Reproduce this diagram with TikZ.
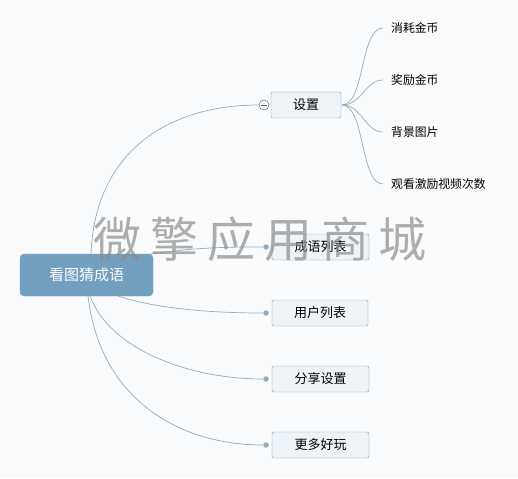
\documentclass[tikz,border=0pt]{standalone}
\usepackage{fontspec}
\setmainfont{Noto Sans CJK SC}
\newfontfamily\cjk{Noto Sans CJK SC}
\definecolor{bg}{HTML}{FAFBFC}
\definecolor{rootc}{HTML}{739FC0}
\definecolor{boxfill}{HTML}{EEF3F8}
\definecolor{boxline}{HTML}{7C9CB6}
\definecolor{linec}{HTML}{8FAEC6}
\definecolor{wm}{HTML}{8C8C8C}
\tikzset{
  rootbox/.style={draw=rootc,fill=rootc,rounded corners=4pt,text=white,font=\cjk\fontsize{15}{17}\selectfont,minimum width=133pt,minimum height=42pt,inner sep=0pt},
  childbox/.style={draw=boxline,fill=boxfill,rounded corners=2pt,font=\cjk\fontsize{13}{15}\selectfont,minimum height=26pt,inner sep=0pt},
  leaf/.style={font=\cjk\fontsize{11.8}{13}\selectfont,anchor=west,inner sep=0pt},
  conn/.style={draw=linec,line width=0.7pt},
  dot/.style={circle,fill=linec,minimum size=5.5pt,inner sep=0pt},
}
\begin{document}
\begin{tikzpicture}[x=1pt,y=-1pt]
\fill[bg] (0,0) rectangle (518,478);
\useasboundingbox (0,0) rectangle (518,478);

\node[rootbox] (root) at (86.5,275) {看图猜成语};
\node[childbox,minimum width=70pt] (s) at (306,105) {设置};
\node[childbox,minimum width=97pt] (c1) at (320.5,247) {成语列表};
\node[childbox,minimum width=96pt] (c2) at (320,313) {用户列表};
\node[childbox,minimum width=97pt] (c3) at (320.5,379) {分享设置};
\node[childbox,minimum width=97pt] (c4) at (320.5,445) {更多好玩};

\node[circle,draw=gray!80!black,fill=white,minimum size=10pt,inner sep=0pt,line width=0.5pt] (col) at (264,105) {};
\draw[gray!80!black,line width=0.6pt] ([xshift=-2.8pt]col.center) -- ([xshift=2.8pt]col.center);

\node[dot] (d1) at (266,247) {};
\node[dot] (d2) at (266,313) {};
\node[dot] (d3) at (266,379) {};
\node[dot] (d4) at (266,445) {};

\coordinate (r0) at (91,254);
\coordinate (r1) at (150,254);
\coordinate (r2) at (118,296);
\coordinate (r3) at (90,296);
\coordinate (r4) at (88,296);

\draw[conn] (r0) .. controls (95,150) and (170,105) .. (col.west);
\draw[conn] (r1) .. controls (200,247) and (230,247) .. (d1);
\draw[conn] (r2) .. controls (160,310) and (220,313) .. (d2);
\draw[conn] (r3) .. controls (110,350) and (190,379) .. (d3);
\draw[conn] (r4) .. controls (100,400) and (180,445) .. (d4);

\node[leaf] (l1) at (391,28) {消耗金币};
\node[leaf] (l2) at (391,80) {奖励金币};
\node[leaf] (l3) at (391,132) {背景图片};
\node[leaf] (l4) at (391,184) {观看激励视频次数};

\coordinate (sr) at (342,105);
\draw[conn] (sr) .. controls (365,105) and (360,28) .. ([xshift=-8pt]l1.west);
\draw[conn] (sr) .. controls (362,105) and (365,80) .. ([xshift=-8pt]l2.west);
\draw[conn] (sr) .. controls (362,105) and (365,132) .. ([xshift=-8pt]l3.west);
\draw[conn] (sr) .. controls (365,105) and (360,184) .. ([xshift=-8pt]l4.west);

\node[text=wm,opacity=0.7,font=\cjk\fontsize{48}{52}\selectfont,inner sep=0pt] (wmk) at (260,239) {微\hspace{9pt}擎\hspace{9pt}应\hspace{9pt}用\hspace{9pt}商\hspace{9pt}城};
\end{tikzpicture}
\end{document}
